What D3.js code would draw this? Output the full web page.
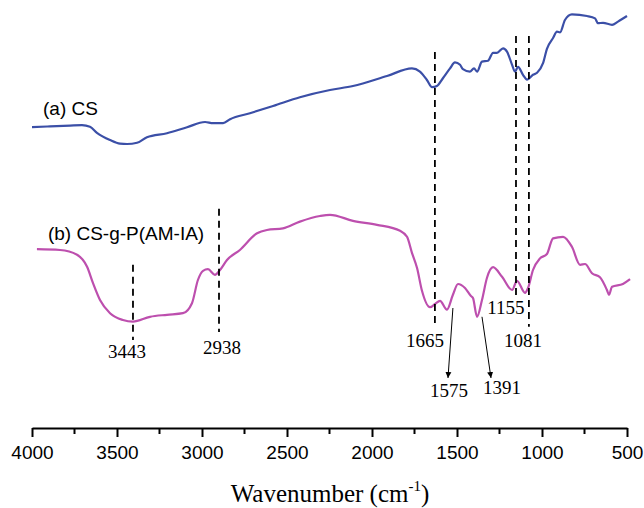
<!DOCTYPE html>
<html><head><meta charset="utf-8">
<script src="https://cdn.jsdelivr.net/npm/d3@7"></script>
<style>body{margin:0;background:#fff} svg{display:block}</style>
</head><body>
<svg id="c" width="644" height="508"></svg>
<script>
// ---- data (wavenumber in cm-1, transmittance in arbitrary units) ----
const csWave = [4000,3894,3776,3706,3659,3618,3541,3482,3441,3382,3324,3206,3088,2982,2935,2876,2835,2718,2582,2424,2247,2112,1912,1765,1718,1677,1647,1618,1582,1541,1512,1482,1465,1424,1400,1382,1353,1318,1288,1265,1229,1206,1176,1159,1141,1112,1088,1053,1029,994,971,935,912,894,865,824,735,688,671,641,588,553,500];
const csT = [75.7,75.9,76.1,76.2,75.8,74.3,72.5,71.6,71.5,71.8,73.2,74.2,75.7,77.0,76.7,76.7,77.7,79.2,81.0,83.2,85.0,86.0,88.5,90.4,89.6,87.5,85.7,86.0,88.0,90.4,91.9,91.3,90.2,89.6,90.4,89.6,92.1,92.3,94.3,94.3,95.4,94.6,91.3,89.6,90.8,88.8,87.6,88.8,89.3,91.7,95.3,98.0,99.6,99.4,102.5,103.9,103.5,102.9,101.7,101.8,101.3,102.1,103.5];
const graftWave = [3971,3835,3735,3676,3641,3600,3541,3465,3406,3306,3206,3112,3059,3024,2994,2965,2924,2894,2853,2777,2676,2618,2524,2424,2306,2247,2112,1971,1835,1794,1765,1735,1706,1659,1629,1600,1559,1524,1494,1453,1418,1406,1382,1353,1324,1288,1235,1176,1147,1100,1082,1053,1012,971,935,876,824,776,747,706,659,618,606,588,524,482];
const graftT = [45.2,45.0,43.8,40.8,36.7,32.5,29.2,27.5,27.1,28.3,28.8,29.2,31.7,37.5,39.8,40.2,38.8,40.0,42.5,45.0,49.2,50.0,50.4,52.1,53.5,53.8,52.3,51.3,49.8,48.3,44.3,40.5,34.8,30.7,31.5,32.3,30.1,33.8,36.5,35.5,33.5,33.0,28.3,32.5,38.0,40.7,38.3,35.0,37.3,34.3,35.5,40.0,42.9,44.0,47.9,48.3,45.8,41.3,41.5,39.2,38.2,35.0,33.8,35.8,36.5,37.7];
const xTicks = [4000,3500,3000,2500,2000,1500,1000,500];
const xMinorTicks = [3750,3250,2750,2250,1750,1250,750];
const seriesNames = ["(a) CS", "(b) CS-g-P(AM-IA)"];
const seriesLabelWave = [3935, 3906];
const seriesLabelT = [78.7, 47.5];
const markerWave = [1630, 1153, 1077, 3406, 2900];
const markerTopT = [94.5, 98.5, 98.5, 41.3, 55.3];
const markerBottomT = [25.5, 33.3, 25.8, 22.5, 24.5];
const peakLabels = ["3443","2938","1665","1575","1391","1155","1081"];
const peakLabelWave = [3441, 2882, 1688, 1547, 1235, 1212, 1112];
const peakLabelT = [18.0, 19.0, 20.8, 8.3, 9.0, 29.0, 20.8];
const arrowFromWave = [1524, 1353];
const arrowFromT = [30.5, 28.3];
const arrowToWave = [1553, 1300];
const arrowToT = [13.0, 13.0];

// ---- drawing ----
const svg = d3.select("#c");
const x = d3.scaleLinear().domain([4000, 500]).range([32, 627]);
const y = d3.scaleLinear().domain([0, 105]).range([430, 10]);
const axisY = 428;

svg.append("defs").append("marker")
  .attr("id","ah").attr("viewBox","0 0 10 10").attr("refX",10).attr("refY",5)
  .attr("markerWidth",6).attr("markerHeight",7).attr("markerUnits","userSpaceOnUse")
  .attr("orient","auto")
  .append("path").attr("d","M0,0L10,5L0,10Z").attr("fill","#000");

const line = d3.line().curve(d3.curveMonotoneX);
const colors = ["#3b4fa7", "#bd4fae"];
const series = [[csWave, csT], [graftWave, graftT]];
series.forEach(([w, t], i) => {
  svg.append("path")
    .attr("d", line(w.map((v, k) => [x(v), y(t[k])])))
    .attr("fill","none").attr("stroke",colors[i]).attr("stroke-width",2.2)
    .attr("stroke-linejoin","round");
});

// dashed markers
markerWave.forEach((w, i) => {
  svg.append("line")
    .attr("x1", x(w)).attr("x2", x(w))
    .attr("y1", y(markerTopT[i])).attr("y2", y(markerBottomT[i]))
    .attr("stroke","#000").attr("stroke-width",1.8).attr("stroke-dasharray","7,5");
});

// arrows
arrowFromWave.forEach((w, i) => {
  svg.append("line")
    .attr("x1", x(w)).attr("y1", y(arrowFromT[i]))
    .attr("x2", x(arrowToWave[i])).attr("y2", y(arrowToT[i]))
    .attr("stroke","#000").attr("stroke-width",1).attr("marker-end","url(#ah)");
});

// peak labels
peakLabels.forEach((s, i) => {
  svg.append("text").text(s)
    .attr("x", x(peakLabelWave[i])).attr("y", y(peakLabelT[i]))
    .attr("text-anchor","middle")
    .attr("font-family","'Liberation Serif','Times New Roman',serif")
    .attr("font-size",19).attr("fill","#000");
});

// series labels
seriesNames.forEach((s, i) => {
  svg.append("text").text(s)
    .attr("x", x(seriesLabelWave[i])).attr("y", y(seriesLabelT[i]))
    .attr("font-family","'Liberation Sans',Arial,sans-serif")
    .attr("font-size",19).attr("fill","#000");
});

// x axis
const gx = svg.append("g").attr("transform",`translate(0,${axisY})`);
gx.call(d3.axisBottom(x).tickValues(xTicks).tickSize(9).tickSizeOuter(0).tickFormat(d3.format("d")));
gx.select(".domain").attr("stroke","#000").attr("stroke-width",2);
gx.selectAll(".tick line").attr("stroke","#000").attr("stroke-width",2);
gx.selectAll(".tick text")
  .attr("y",31).attr("dy",0)
  .attr("font-family","'Liberation Sans',Arial,sans-serif")
  .attr("font-size",19).attr("fill","#000");
gx.selectAll(".minor").data(xMinorTicks).enter().append("line")
  .attr("class","minor")
  .attr("x1", d => x(d)).attr("x2", d => x(d))
  .attr("y1", 0).attr("y2", 6)
  .attr("stroke","#000").attr("stroke-width",2);

// axis title
const title = svg.append("text")
  .attr("x", 330).attr("y", 502).attr("text-anchor","middle")
  .attr("font-family","'Liberation Serif','Times New Roman',serif")
  .attr("font-size",25).attr("fill","#000");
title.append("tspan").text("Wavenumber (cm");
title.append("tspan").text("-1").attr("font-size",15).attr("dy",-11);
title.append("tspan").text(")").attr("dy",11);
</script>
</body></html>
